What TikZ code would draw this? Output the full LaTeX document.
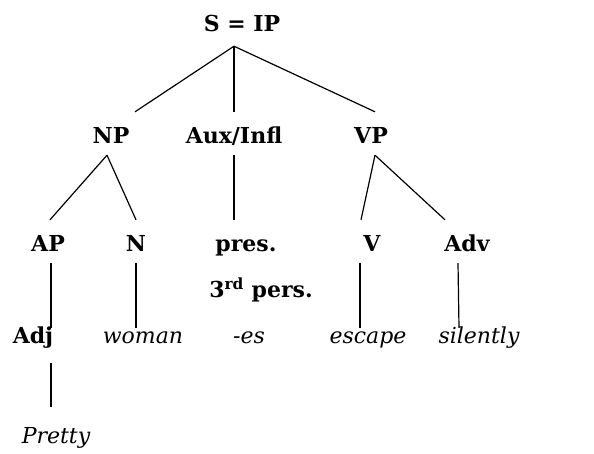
\documentclass[tikz,border=0pt]{standalone}
\usepackage{fontspec}
\setmainfont{DejaVu Serif}
\begin{document}
\begin{tikzpicture}[x=1pt,y=-1pt,
  lbl/.style={font=\fontsize{22}{26}\selectfont\bfseries, anchor=base, inner xsep=0pt, inner ysep=8pt, text height=15pt, text depth=4pt},
  word/.style={lbl, font=\fontsize{22}{26}\selectfont\itshape},
  br/.style={line width=1.2pt},
  toleaf/.style={br, shorten >=8pt}]
\useasboundingbox (0,0) rectangle (594,453);
\node[lbl] (S) at (242,31) {S = IP};
\node[lbl] (NP) at (111,143) {NP};
\node[lbl] (AUX) at (234,143) {Aux/Infl};
\node[lbl] (VP) at (371,143) {VP};
\node[lbl] (AP) at (48,251) {AP};
\node[lbl] (N) at (136,251) {N};
\node[lbl] (PRES) at (246,251) {pres.};
\node[lbl] (V) at (372,251) {V};
\node[lbl] (ADV) at (467,251) {Adv};
\node[lbl] (PERS) at (261,297) {3\textsuperscript{rd} pers.};
\node[lbl] (ADJ) at (33,343) {Adj};
\node[word] (W) at (143,343) {woman};
\node[word] (ES) at (249,343) {-es};
\node[word] (ESC) at (368,343) {escape};
\node[word] (SIL) at (479,343) {silently};
\node[word] (PR) at (56,443) {Pretty};
% root
\draw[br] ([xshift=-8pt,yshift=-3pt]S.south) -- ([xshift=24pt,yshift=8pt]NP.north);
\draw[br] ([xshift=-8pt,yshift=-3pt]S.south) -- ([yshift=8pt]AUX.north);
\draw[br] ([xshift=-8pt,yshift=-3pt]S.south) -- ([xshift=4pt,yshift=8pt]VP.north);
% second level
\draw[br] ([xshift=-4pt]NP.south) -- ([xshift=2pt,yshift=8pt]AP.north);
\draw[br] ([xshift=-4pt]NP.south) -- ([yshift=8pt]N.north);
\draw[br] (AUX.south) -- ([xshift=-12pt,yshift=8pt]PRES.north);
\draw[br] ([xshift=4pt]VP.south) -- ([xshift=-11pt,yshift=8pt]V.north);
\draw[br] ([xshift=4pt]VP.south) -- ([xshift=-22pt,yshift=8pt]ADV.north);
% leaves
\draw[br] ([xshift=3pt]AP.south) -- ([xshift=18pt,yshift=-8pt]ADJ.north);
\draw[br] (N.south) -- ([xshift=-7pt,yshift=-8pt]W.north);
\draw[br] ([xshift=-12pt]V.south) -- ([xshift=-8pt,yshift=-8pt]ESC.north);
\draw[br] ([xshift=-9pt]ADV.south) -- ([xshift=-20pt,yshift=-8pt]SIL.north);
\draw[br] ([xshift=18pt,yshift=-8pt]ADJ.south) -- ([xshift=-5pt,yshift=13pt]PR.north);
\end{tikzpicture}
\end{document}
